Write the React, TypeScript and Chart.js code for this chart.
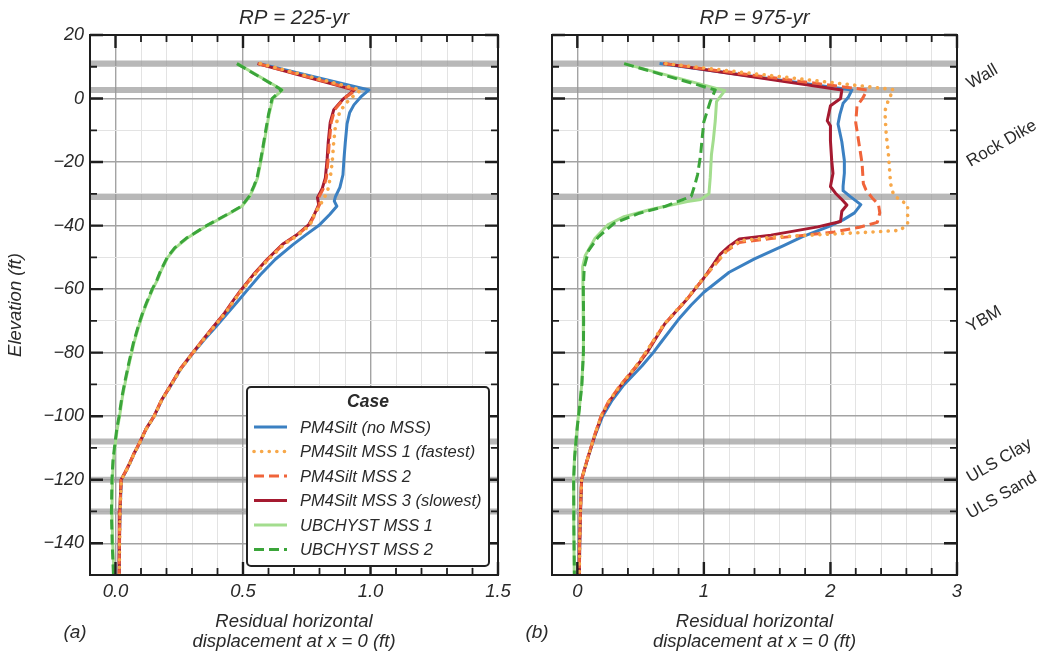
import React, { useEffect, useRef } from 'react';
import { Chart, registerables } from 'chart.js';

Chart.register(...registerables);

// Each point is [residual horizontal displacement at x = 0 (ft), elevation (ft)]
type Pt = [number, number];

const FONT = '"Liberation Sans", Arial, Helvetica, sans-serif';
const INK = '#2a2a2a';

// Soil layer boundaries (ft) and the units between consecutive boundaries
const layerBoundaries = [11, 2.7, -31, -108, -120, -130];
const layerNames = ['Wall', 'Rock Dike', 'YBM', 'ULS Clay', 'ULS Sand'];

// Elevation axis
const elevMin = -150;
const elevMax = 20;

const caseLabels = [
  'PM4Silt (no MSS)',
  'PM4Silt MSS 1 (fastest)',
  'PM4Silt MSS 2',
  'PM4Silt MSS 3 (slowest)',
  'UBCHYST MSS 1',
  'UBCHYST MSS 2',
];
const caseColors = ['#3b80c2', '#f7a84a', '#f0643a', '#a51a30', '#a3dd8e', '#3ba53a'];
const caseDashes: number[][] = [[], [0.1, 7.5], [10, 5], [], [], [10, 5]];
const caseWidths = [3, 3.6, 3, 3, 3, 3];
const caseCaps = ['butt', 'round', 'butt', 'butt', 'butt', 'butt'];
// higher value is painted first
const drawOrder = [6, 3, 4, 5, 2, 1];

// ---- RP = 225-yr ----
const pm4NoMss225: Pt[] = [
  [0.565, 11], [0.994, 2.7], [0.962, 0.5], [0.935, -2], [0.918, -4.5], [0.908, -8], [0.901, -14],
  [0.896, -19], [0.892, -24], [0.88, -28], [0.862, -31], [0.858, -32.3], [0.868, -33.9], [0.84, -36.5],
  [0.797, -40], [0.745, -43], [0.696, -46], [0.627, -50.6], [0.568, -55.5], [0.52, -60], [0.478, -64],
  [0.44, -67.5], [0.392, -72], [0.347, -76], [0.306, -80], [0.257, -85], [0.216, -90.5], [0.181, -95],
  [0.152, -100], [0.12, -104], [0.095, -108.4], [0.075, -111.5], [0.057, -114.7], [0.04, -117.5],
  [0.023, -120], [0.018, -130], [0.015, -140], [0.014, -150],
];
const pm4Mss1_225: Pt[] = [
  [0.568, 11], [0.962, 2.7], [0.918, -0.2], [0.88, -4], [0.862, -9], [0.855, -14.4], [0.85, -20],
  [0.842, -25], [0.832, -29], [0.82, -31], [0.8, -33.9], [0.782, -36], [0.763, -39.8], [0.716, -43],
  [0.664, -45.7], [0.6, -50.6], [0.545, -55.5], [0.494, -60.5], [0.462, -64], [0.431, -67.5],
  [0.385, -72], [0.344, -76], [0.305, -80], [0.257, -85], [0.216, -90.5], [0.181, -95], [0.152, -100],
  [0.121, -104], [0.095, -108.4], [0.075, -111.5], [0.057, -114.7], [0.04, -117.5], [0.023, -120],
  [0.018, -130], [0.016, -140], [0.015, -150],
];
const pm4Mss2_225: Pt[] = [
  [0.56, 11], [0.943, 2.7], [0.896, 0], [0.86, -3.5], [0.846, -7.5], [0.838, -14], [0.834, -19],
  [0.827, -25], [0.814, -28.5], [0.797, -31.2], [0.8, -33.4], [0.783, -36.5], [0.76, -39.8], [0.713, -43],
  [0.661, -45.7], [0.598, -50.6], [0.543, -55.5], [0.492, -60.5], [0.46, -64], [0.43, -67.5],
  [0.384, -72], [0.343, -76], [0.304, -80], [0.256, -85], [0.215, -90.5], [0.18, -95], [0.151, -100],
  [0.12, -104], [0.094, -108.4], [0.074, -111.5], [0.056, -114.7], [0.039, -117.5], [0.022, -120],
  [0.017, -130], [0.015, -140], [0.014, -150],
];
const pm4Mss3_225: Pt[] = [
  [0.557, 11], [0.937, 2.7], [0.892, -0.2], [0.856, -3.5], [0.842, -7.5], [0.834, -14], [0.83, -19],
  [0.823, -25], [0.81, -28.5], [0.792, -31.2], [0.797, -33.4], [0.78, -36.5], [0.757, -39.8], [0.71, -43],
  [0.658, -45.7], [0.595, -50.6], [0.54, -55.5], [0.49, -60.5], [0.458, -64], [0.428, -67.5],
  [0.382, -72], [0.342, -76], [0.303, -80], [0.255, -85], [0.214, -90.5], [0.18, -95], [0.151, -100],
  [0.12, -104], [0.094, -108.4], [0.074, -111.5], [0.056, -114.7], [0.039, -117.5], [0.022, -120],
  [0.017, -130], [0.015, -140], [0.014, -150],
];
const ubcMss1_225: Pt[] = [
  [0.478, 11], [0.655, 2.7], [0.617, 0], [0.602, -5], [0.587, -12], [0.572, -19], [0.557, -25],
  [0.545, -27.5], [0.527, -30.7], [0.496, -33.9], [0.44, -36.5], [0.36, -40], [0.28, -44], [0.235, -47],
  [0.205, -50], [0.18, -54], [0.165, -57], [0.146, -60], [0.125, -64], [0.108, -67.5], [0.09, -72],
  [0.072, -77], [0.055, -83], [0.04, -88.6], [0.027, -94], [0.016, -100], [0.007, -104], [0.0, -108.4],
  [-0.008, -114], [-0.012, -120], [-0.014, -130.5], [-0.011, -140], [-0.006, -150],
];
const ubcMss2_225: Pt[] = [
  [0.476, 11], [0.652, 2.7], [0.614, 0], [0.6, -5], [0.585, -12], [0.57, -19], [0.555, -25],
  [0.543, -27.5], [0.525, -30.7], [0.494, -33.9], [0.437, -36.5], [0.357, -40], [0.277, -44], [0.232, -47],
  [0.203, -50], [0.178, -54], [0.163, -57], [0.144, -60], [0.123, -64], [0.106, -67.5], [0.088, -72],
  [0.07, -77], [0.053, -83], [0.038, -88.6], [0.025, -94], [0.014, -100], [0.005, -104], [-0.002, -108.4],
  [-0.01, -114], [-0.014, -120], [-0.016, -130.5], [-0.013, -140], [-0.008, -150],
];

// ---- RP = 975-yr ----
const pm4NoMss975: Pt[] = [
  [0.65, 11], [2.17, 2.7], [2.14, 0.3], [2.1, -1.5], [2.075, -5], [2.06, -8], [2.09, -13.6], [2.11, -19.5],
  [2.11, -23.5], [2.1, -27.6], [2.1, -29], [2.155, -30.8], [2.24, -33.4], [2.19, -36], [2.1, -38.2],
  [1.98, -40.4], [1.78, -43.5], [1.63, -46.3], [1.4, -50.5], [1.2, -54.7], [1.0, -61], [0.9, -65],
  [0.8, -69.5], [0.66, -76.8], [0.6, -80], [0.51, -84.2], [0.36, -90.5], [0.275, -95], [0.2, -100],
  [0.142, -105.8], [0.087, -112.6], [0.055, -117], [0.034, -120], [0.025, -130], [0.019, -140], [0.016, -150],
];
const pm4Mss1_975: Pt[] = [
  [0.7, 11], [2.5, 2.8], [2.46, -0.2], [2.43, -4], [2.44, -10.8], [2.46, -18.3], [2.475, -26.8],
  [2.5, -30.5], [2.61, -33.5], [2.61, -39.5], [2.55, -41.5], [2.3, -42.1], [2.05, -42.6], [1.55, -43.6],
  [1.28, -44.8], [1.18, -47.8], [1.0, -56.3], [0.86, -63.3], [0.68, -71.3], [0.54, -80], [0.46, -84.5],
  [0.336, -90.5], [0.246, -95.5], [0.188, -100], [0.139, -105.8], [0.087, -112.6], [0.055, -117],
  [0.034, -120], [0.025, -130], [0.019, -140], [0.016, -150],
];
const pm4Mss2_975: Pt[] = [
  [0.68, 11], [2.29, 2.7], [2.25, -0.2], [2.21, -2.3], [2.2, -7.6], [2.225, -14], [2.25, -20.4],
  [2.26, -26.8], [2.28, -28.7], [2.33, -31.3], [2.38, -33.4], [2.39, -36], [2.37, -39], [2.23, -40.5],
  [2.03, -42], [1.78, -43.1], [1.53, -44.1], [1.28, -45.3], [1.18, -48], [1.0, -56.5], [0.86, -63.5],
  [0.68, -71.5], [0.54, -80], [0.46, -84.5], [0.335, -90.5], [0.245, -95.5], [0.187, -100],
  [0.138, -105.8], [0.086, -112.6], [0.054, -117], [0.033, -120], [0.024, -130], [0.018, -140], [0.015, -150],
];
const pm4Mss3_975: Pt[] = [
  [0.68, 11], [2.09, 2.7], [2.08, 0], [2.0, -2.3], [1.975, -7], [2.0, -8.6], [2.0, -13.3], [2.01, -19.5],
  [2.02, -23.6], [2.0, -27.7], [2.04, -29.8], [2.09, -31.8], [2.13, -33.5], [2.09, -35.5], [2.08, -38.7],
  [1.9, -40.4], [1.53, -43], [1.28, -44.2], [1.2, -46.5], [1.13, -49], [1.0, -56.5], [0.87, -63],
  [0.69, -71], [0.55, -80], [0.47, -84.2], [0.34, -90.5], [0.25, -95.5], [0.19, -100], [0.14, -105.8],
  [0.087, -112.6], [0.055, -117], [0.034, -120], [0.025, -130], [0.019, -140], [0.016, -150],
];
const ubcMss1_975: Pt[] = [
  [0.37, 11], [1.165, 2.5], [1.1, -1], [1.09, -7], [1.075, -13], [1.06, -17.6], [1.05, -25], [1.04, -30],
  [0.975, -31.8], [0.87, -32.4], [0.57, -35], [0.37, -37.2], [0.24, -39.8], [0.14, -44], [0.063, -49.4],
  [0.042, -53], [0.045, -60], [0.05, -70], [0.047, -80], [0.035, -90], [0.02, -96], [0.0, -103],
  [-0.012, -108], [-0.022, -113], [-0.03, -120], [-0.028, -135], [-0.024, -150],
];
const ubcMss2_975: Pt[] = [
  [0.37, 11], [1.09, 2.7], [1.05, -1], [1.0, -7.3], [0.985, -13], [0.975, -17.6], [0.95, -24], [0.93, -27],
  [0.9, -30.8], [0.69, -34], [0.49, -36.1], [0.29, -39.3], [0.165, -43.6], [0.09, -47.8], [0.055, -53],
  [0.047, -60], [0.05, -70], [0.048, -80], [0.036, -90], [0.021, -96], [0.001, -103], [-0.011, -108],
  [-0.021, -113], [-0.029, -120], [-0.027, -135], [-0.023, -150],
];

const series225 = [pm4NoMss225, pm4Mss1_225, pm4Mss2_225, pm4Mss3_225, ubcMss1_225, ubcMss2_225];
const series975 = [pm4NoMss975, pm4Mss1_975, pm4Mss2_975, pm4Mss3_975, ubcMss1_975, ubcMss2_975];

const axisTitleLines = ['Residual horizontal', 'displacement at x = 0 (ft)'];

interface PanelSpec {
  title: string;
  tag: string;
  xMin: number;
  xMax: number;
  xStep: number;
  xMajor: number;
  xDigits: number;
  series: Pt[][];
  yLabels: boolean;
  yAxisWidth: number;
  padRight: number;
  legend: boolean;
  layerLabels: boolean;
}

const near = (v: number, m: number) => Math.abs(v / m - Math.round(v / m)) < 1e-6;
const signed = (v: number, d: number) => {
  const s = Math.abs(v).toFixed(d);
  return v < -1e-9 ? '\u2212' + s : s;
};

function makeDatasets(series: Pt[][]) {
  return series.map((pts, i) => ({
    label: caseLabels[i],
    data: pts.map(([x, y]) => ({ x, y })),
    borderColor: caseColors[i],
    backgroundColor: caseColors[i],
    borderWidth: caseWidths[i],
    borderDash: caseDashes[i],
    borderCapStyle: caseCaps[i] as CanvasLineCap,
    borderJoinStyle: 'round' as CanvasLineJoin,
    pointRadius: 0,
    pointHoverRadius: 0,
    showLine: true,
    tension: 0,
    order: drawOrder[i],
  }));
}

function decorPlugin(spec: PanelSpec) {
  return {
    id: 'panelDecor',
    beforeDatasetsDraw(chart: any) {
      const { ctx, chartArea: ca } = chart;
      const ys = chart.scales.y;
      ctx.save();
      ctx.strokeStyle = 'rgba(150,150,150,0.68)';
      ctx.lineWidth = 6;
      layerBoundaries.forEach((e) => {
        const y = ys.getPixelForValue(e);
        ctx.beginPath();
        ctx.moveTo(ca.left, y);
        ctx.lineTo(ca.right, y);
        ctx.stroke();
      });
      ctx.restore();
    },
    afterDatasetsDraw(chart: any) {
      const { ctx, chartArea: ca } = chart;
      const xs = chart.scales.x;
      const ys = chart.scales.y;
      ctx.save();
      ctx.strokeStyle = '#1e1e1e';
      ctx.lineCap = 'butt';
      // inward ticks on all four sides
      xs.ticks.forEach((t: any) => {
        const major = near(t.value, spec.xMajor);
        const len = major ? 13 : 7;
        ctx.lineWidth = major ? 2.4 : 1.8;
        const x = xs.getPixelForValue(t.value);
        ctx.beginPath();
        ctx.moveTo(x, ca.top);
        ctx.lineTo(x, ca.top + len);
        ctx.moveTo(x, ca.bottom);
        ctx.lineTo(x, ca.bottom - len);
        ctx.stroke();
      });
      ys.ticks.forEach((t: any) => {
        const major = near(t.value, 20);
        const len = major ? 13 : 7;
        ctx.lineWidth = major ? 2.4 : 1.8;
        const y = ys.getPixelForValue(t.value);
        ctx.beginPath();
        ctx.moveTo(ca.left, y);
        ctx.lineTo(ca.left + len, y);
        ctx.moveTo(ca.right, y);
        ctx.lineTo(ca.right - len, y);
        ctx.stroke();
      });
      ctx.lineWidth = 2;
      ctx.strokeRect(ca.left, ca.top, ca.right - ca.left, ca.bottom - ca.top);
      ctx.restore();
    },
    afterDraw(chart: any) {
      const { ctx, chartArea: ca } = chart;
      const ys = chart.scales.y;
      const cx = (ca.left + ca.right) / 2;
      ctx.save();
      ctx.fillStyle = INK;
      ctx.textAlign = 'center';
      ctx.textBaseline = 'middle';

      ctx.font = `italic 20.5px ${FONT}`;
      ctx.fillText(spec.title, cx, 18);

      ctx.font = `italic 18.5px ${FONT}`;
      ctx.fillText(axisTitleLines[0], cx, 622);
      ctx.fillText(axisTitleLines[1], cx, 642);

      ctx.font = `italic 19px ${FONT}`;
      ctx.fillText(spec.tag, ca.left - 15, 633);

      if (spec.yLabels) {
        ctx.save();
        ctx.translate(16, (ca.top + ca.bottom) / 2);
        ctx.rotate(-Math.PI / 2);
        ctx.font = `italic 18.5px ${FONT}`;
        ctx.fillText('Elevation (ft)', 0, 0);
        ctx.restore();
      }

      if (spec.layerLabels) {
        const th = (30 * Math.PI) / 180;
        ctx.font = `17px ${FONT}`;
        layerNames.forEach((name, i) => {
          const mid = (layerBoundaries[i] + layerBoundaries[i + 1]) / 2;
          const y = ys.getPixelForValue(mid);
          const w = ctx.measureText(name).width;
          const h = 13;
          const bw = w * Math.cos(th) + h * Math.sin(th);
          ctx.save();
          ctx.translate(ca.right + 8 + bw / 2, y);
          ctx.rotate(-th);
          ctx.fillText(name, 0, 0);
          ctx.restore();
        });
      }

      if (spec.legend) {
        const bw = 242;
        const bh = 179;
        const bx = ca.right - 9 - bw;
        const by = ca.bottom - 9 - bh;
        ctx.beginPath();
        ctx.roundRect(bx, by, bw, bh, 4);
        ctx.fillStyle = '#ffffff';
        ctx.fill();
        ctx.lineWidth = 2;
        ctx.strokeStyle = '#222222';
        ctx.stroke();

        ctx.fillStyle = INK;
        ctx.font = `italic bold 17.5px ${FONT}`;
        ctx.fillText('Case', bx + bw / 2, by + 15);

        ctx.textAlign = 'left';
        ctx.font = `italic 16.5px ${FONT}`;
        chart.data.datasets.forEach((ds: any, i: number) => {
          const y = by + 40 + i * 24.5;
          ctx.save();
          ctx.strokeStyle = ds.borderColor;
          ctx.lineWidth = ds.borderWidth;
          ctx.lineCap = ds.borderCapStyle;
          ctx.setLineDash(ds.borderDash);
          ctx.beginPath();
          ctx.moveTo(bx + 7, y);
          ctx.lineTo(bx + 40, y);
          ctx.stroke();
          ctx.restore();
          ctx.fillStyle = INK;
          ctx.fillText(ds.label, bx + 53, y + 1);
        });
      }
      ctx.restore();
    },
  };
}

function Panel({ spec, left, width }: { spec: PanelSpec; left: number; width: number }) {
  const ref = useRef<HTMLCanvasElement>(null);
  useEffect(() => {
    const canvas = ref.current;
    if (!canvas) return;
    const gridColor = (major: boolean) => (major ? '#a3a3a3' : '#e3e3e3');
    const chart = new Chart(canvas, {
      type: 'scatter',
      data: { datasets: makeDatasets(spec.series) as any },
      options: {
        responsive: false,
        animation: false,
        events: [],
        layout: { padding: { top: 35, right: spec.padRight, left: 0, bottom: 0 } },
        plugins: { legend: { display: false }, tooltip: { enabled: false }, title: { display: false } },
        scales: {
          x: {
            type: 'linear',
            min: spec.xMin,
            max: spec.xMax,
            afterFit: (s: any) => {
              s.height = 78;
            },
            border: { display: false },
            grid: {
              drawTicks: false,
              color: (c: any) => gridColor(near(c.tick.value, spec.xMajor)),
              lineWidth: (c: any) => (near(c.tick.value, spec.xMajor) ? 1.4 : 1),
            },
            ticks: {
              stepSize: spec.xStep,
              autoSkip: false,
              maxRotation: 0,
              padding: 6,
              color: INK,
              font: { family: FONT, size: 18.5, style: 'italic' },
              callback: (v: any) => {
                const n = Number(v);
                return n > -1e-9 && near(n, spec.xMajor) ? Math.abs(n).toFixed(spec.xDigits) : '';
              },
            },
          },
          y: {
            type: 'linear',
            min: elevMin,
            max: elevMax,
            afterFit: (s: any) => {
              s.width = spec.yAxisWidth;
            },
            border: { display: false },
            grid: {
              drawTicks: false,
              color: (c: any) => gridColor(near(c.tick.value, 20)),
              lineWidth: (c: any) => (near(c.tick.value, 20) ? 1.4 : 1),
            },
            ticks: {
              display: spec.yLabels,
              stepSize: 10,
              autoSkip: false,
              padding: 6,
              color: INK,
              font: { family: FONT, size: 18, style: 'italic' },
              callback: (v: any) => {
                const n = Number(v);
                return near(n, 20) ? signed(n, 0) : '';
              },
            },
          },
        },
      } as any,
      plugins: [decorPlugin(spec)],
    });
    return () => chart.destroy();
  }, [spec]);
  return (
    <canvas
      ref={ref}
      width={width}
      height={653}
      style={{ position: 'absolute', left, top: 0, width, height: 653, display: 'block' }}
    />
  );
}

const leftSpec: PanelSpec = {
  title: 'RP = 225-yr',
  tag: '(a)',
  xMin: -0.1,
  xMax: 1.5,
  xStep: 0.1,
  xMajor: 0.5,
  xDigits: 1,
  series: series225,
  yLabels: true,
  yAxisWidth: 90,
  padRight: 22,
  legend: true,
  layerLabels: false,
};

const rightSpec: PanelSpec = {
  title: 'RP = 975-yr',
  tag: '(b)',
  xMin: -0.2,
  xMax: 3,
  xStep: 0.2,
  xMajor: 1,
  xDigits: 0,
  series: series975,
  yLabels: false,
  yAxisWidth: 32,
  padRight: 105,
  legend: false,
  layerLabels: true,
};

export default function App() {
  return (
    <div style={{ position: 'fixed', left: 0, top: 0, width: 1062, height: 653, background: '#ffffff' }}>
      <Panel spec={leftSpec} left={0} width={520} />
      <Panel spec={rightSpec} left={520} width={542} />
    </div>
  );
}
